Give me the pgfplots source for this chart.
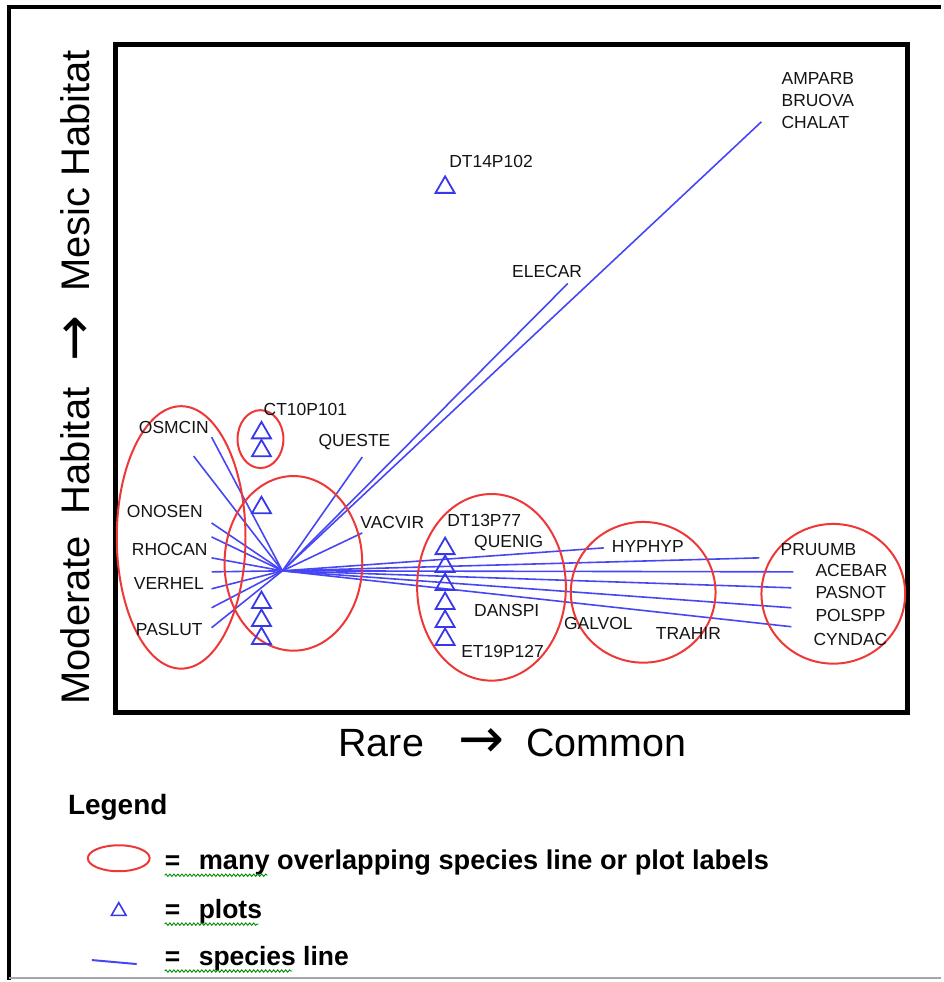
\documentclass[border=0pt]{standalone}
\usepackage{fontspec}
\setmainfont{Liberation Sans}
\newfontfamily\arr{DejaVu Sans}
\usepackage{pgfplots}
\usepackage{pgfplotstable}
\pgfplotsset{compat=1.18}
\usetikzlibrary{decorations.pathmorphing}
\definecolor{spline}{RGB}{70,70,245}
\definecolor{plotc}{RGB}{55,55,235}
\definecolor{ell}{RGB}{238,55,55}
\definecolor{lab}{RGB}{20,20,20}

% plot positions (triangles)
\pgfplotstableread{
x y
446 187.75
262 433.75
262 451.75
262 508.75
262 603.75
262 621.75
262 639.75
446 549.75
446 567.75
446 585.75
446 604.75
446 622.75
446 640.75
}\plotsA

\begin{document}
\begin{tikzpicture}
\tikzset{lbl/.style={font=\fontsize{17.5}{20}\selectfont, text=lab, inner sep=0pt, anchor=west}}
\begin{axis}[
  scale only axis, width=793pt, height=669pt,
  xmin=116, xmax=909, ymin=45, ymax=714, y dir=reverse,
  axis line style={line width=5pt, black},
  ticks=none, clip=false,
]
% bounding box and outer frame
\path (axis cs:0,0) rectangle (axis cs:943,982);
\draw[black, line width=4pt] (axis cs:9,982) -- (axis cs:9,7) -- (axis cs:943,7);
\draw[black!35, line width=2pt] (axis cs:9,980) -- (axis cs:943,980);

% species lines
\addplot[spline, line width=1.6pt] coordinates {(283,572) (763,122)};
\addplot[spline, line width=1.6pt] coordinates {(283,572) (569,284)};
\addplot[spline, line width=1.6pt] coordinates {(283,572) (363,458)};
\addplot[spline, line width=1.6pt] coordinates {(283,572) (363,534)};
\addplot[spline, line width=1.6pt] coordinates {(283,572) (212,438)};
\addplot[spline, line width=1.6pt] coordinates {(283,572) (194,457)};
\addplot[spline, line width=1.6pt] coordinates {(283,572) (212,524)};
\addplot[spline, line width=1.6pt] coordinates {(283,572) (212,538)};
\addplot[spline, line width=1.6pt] coordinates {(283,572) (212,559)};
\addplot[spline, line width=1.6pt] coordinates {(283,572) (212,573)};
\addplot[spline, line width=1.6pt] coordinates {(283,572) (212,590)};
\addplot[spline, line width=1.6pt] coordinates {(283,572) (212,609)};
\addplot[spline, line width=1.6pt] coordinates {(283,572) (212,629)};
\addplot[spline, line width=1.6pt] coordinates {(283,572) (605,549)};
\addplot[spline, line width=1.6pt] coordinates {(283,572) (761,559)};
\addplot[spline, line width=1.6pt] coordinates {(283,572) (795,573)};
\addplot[spline, line width=1.6pt] coordinates {(283,572) (793,589)};
\addplot[spline, line width=1.6pt] coordinates {(283,572) (793,609)};
\addplot[spline, line width=1.6pt] coordinates {(283,572) (793,628)};

% plots
\addplot[only marks, mark=triangle, mark size=11pt, plotc, mark options={line width=1.8pt}] table {\plotsA};

% ellipses
\draw[ell, line width=2pt] (axis cs:181.5,538.5) ellipse [x radius=64.5, y radius=131.5];
\draw[ell, line width=2pt] (axis cs:261,440) ellipse [x radius=23, y radius=29];
\draw[ell, line width=2pt] (axis cs:294,564.5) ellipse [x radius=69, y radius=87.5];
\draw[ell, line width=2pt] (axis cs:492.5,588.5) ellipse [x radius=74.5, y radius=93.5];
\draw[ell, line width=2pt] (axis cs:644.5,593.5) ellipse [x radius=72.5, y radius=70.5];
\draw[ell, line width=2pt] (axis cs:835,595) ellipse [x radius=72, y radius=70];

% labels
\node[lbl] at (axis cs:783,79) {AMPARB};
\node[lbl] at (axis cs:783,101) {BRUOVA};
\node[lbl] at (axis cs:783,123) {CHALAT};
\node[lbl] at (axis cs:450,162) {DT14P102};
\node[lbl] at (axis cs:513,272) {ELECAR};
\node[lbl] at (axis cs:264,410) {CT10P101};
\node[lbl] at (axis cs:139,428) {OSMCIN};
\node[lbl] at (axis cs:319,443) {QUESTE};
\node[lbl] at (axis cs:127,513) {ONOSEN};
\node[lbl] at (axis cs:361,524) {VACVIR};
\node[lbl] at (axis cs:132,551) {RHOCAN};
\node[lbl] at (axis cs:134,585) {VERHEL};
\node[lbl] at (axis cs:136,631) {PASLUT};
\node[lbl] at (axis cs:448,522) {DT13P77};
\node[lbl] at (axis cs:475,544) {QUENIG};
\node[lbl] at (axis cs:613,548) {HYPHYP};
\node[lbl] at (axis cs:782,551) {PRUUMB};
\node[lbl] at (axis cs:817,572) {ACEBAR};
\node[lbl] at (axis cs:817,594) {PASNOT};
\node[lbl] at (axis cs:817,617) {POLSPP};
\node[lbl] at (axis cs:815,641) {CYNDAC};
\node[lbl] at (axis cs:475,612) {DANSPI};
\node[lbl] at (axis cs:565,625) {GALVOL};
\node[lbl] at (axis cs:657,635) {TRAHIR};
\node[lbl] at (axis cs:462,653) {ET19P127};

% axis titles
\node[font=\fontsize{39.5}{44}\selectfont, anchor=base east, inner sep=0pt] at (axis cs:425,758) {Rare};
\node[font=\arr\fontsize{55}{60}\selectfont, anchor=center, inner sep=0pt] at (axis cs:482,745) {→};
\node[font=\fontsize{39.5}{44}\selectfont, anchor=base west, inner sep=0pt] at (axis cs:527,758) {Common};
\node[font=\fontsize{40}{44}\selectfont, anchor=base, rotate=90, inner sep=0pt] at (axis cs:90,378)
  {Moderate\hspace{22pt}Habitat\hspace{26pt}\raisebox{-3pt}{\arr\fontsize{55}{60}\selectfont →}\hspace{24pt}Mesic Habitat};

% legend
\node[font=\bfseries\fontsize{28}{32}\selectfont, anchor=base west, inner sep=0pt] at (axis cs:68,816) {Legend};
\draw[ell, line width=2pt] (axis cs:119,860) ellipse [x radius=31, y radius=13];
\addplot[only marks, mark=triangle, mark size=8.5pt, plotc, mark options={line width=1.6pt}] coordinates {(119,913)};
\addplot[spline, line width=2pt] coordinates {(92,962) (137,966)};
\node[font=\bfseries\fontsize{26.5}{30}\selectfont, anchor=base west, inner sep=0pt] at (axis cs:165,871) {=};
\node[font=\bfseries\fontsize{27.2}{30}\selectfont, anchor=base west, inner sep=0pt] at (axis cs:199,871) {many overlapping species line or plot labels};
\node[font=\bfseries\fontsize{26.5}{30}\selectfont, anchor=base west, inner sep=0pt] at (axis cs:165,920) {=};
\node[font=\bfseries\fontsize{26.5}{30}\selectfont, anchor=base west, inner sep=0pt] at (axis cs:199,920) {plots};
\node[font=\bfseries\fontsize{26.5}{30}\selectfont, anchor=base west, inner sep=0pt] at (axis cs:165,967) {=};
\node[font=\bfseries\fontsize{26.5}{30}\selectfont, anchor=base west, inner sep=0pt] at (axis cs:199,967) {species line};
\draw[green!55!black, line width=0.9pt, decorate, decoration={snake, amplitude=1.2pt, segment length=4pt}] (axis cs:165,877) -- (axis cs:268,877);
\draw[green!55!black, line width=0.9pt, decorate, decoration={snake, amplitude=1.2pt, segment length=4pt}] (axis cs:165,926) -- (axis cs:259,926);
\draw[green!55!black, line width=0.9pt, decorate, decoration={snake, amplitude=1.2pt, segment length=4pt}] (axis cs:165,973) -- (axis cs:293,973);
\end{axis}
\end{tikzpicture}
\end{document}
